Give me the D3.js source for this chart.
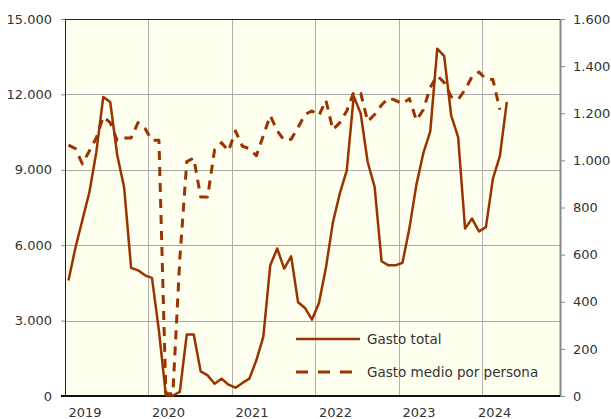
<!DOCTYPE html>
<html><head><meta charset="utf-8">
<script src="https://cdn.jsdelivr.net/npm/d3@7"></script>
<style>body{margin:0;background:#fff;}svg{display:block;font-family:"DejaVu Sans",Verdana,sans-serif;}</style>
</head><body><svg id="c" width="611" height="419"></svg>
<script>
// Monthly categories: Jan 2019 – Nov 2024 (axis span); data runs Jan 2019 – Apr 2024
const months = d3.timeMonths(new Date(2019,0,1), new Date(2024,11,1));
const years = [2019, 2020, 2021, 2022, 2023, 2024];
const leftTicks = [0, 3000, 6000, 9000, 12000, 15000];
const rightTicks = [0, 200, 400, 600, 800, 1000, 1200, 1400, 1600];
const seriesNames = ["Gasto total", "Gasto medio por persona"];
const gastoTotal = [
  4600, 5900, 7000, 8100, 9700, 11900, 11700, 9600, 8300, 5100, 5000, 4800,
  4700, 2600, 30, 20, 160, 2450, 2450, 980, 820, 490, 690, 450,
  330, 520, 690, 1420, 2350, 5200, 5870, 5070, 5560, 3730, 3500, 3040,
  3700, 5100, 6900, 8060, 8980, 11930, 11240, 9310, 8320, 5360, 5200, 5200,
  5300, 6670, 8400, 9660, 10530, 13820, 13520, 11170, 10300, 6660, 7060, 6550,
  6720, 8650, 9540, 11700
];
const gastoMedio = [
  1065, 1050, 985, 1040, 1095, 1185, 1160, 1085, 1095, 1095, 1160, 1135,
  1085, 1085, 10, 10, 580, 995, 1010, 845, 845, 1045, 1075, 1040,
  1125, 1060, 1050, 1020, 1105, 1190, 1125, 1085, 1090, 1140, 1195, 1210,
  1190, 1255, 1130, 1160, 1210, 1290, 1285, 1165, 1195, 1235, 1265, 1255,
  1240, 1262, 1170, 1215, 1310, 1360, 1330, 1270, 1258, 1300, 1355, 1375,
  1345, 1343, 1215
];

const svg = d3.select("#c");
const L = 65, R = 560, T = 19, B = 396;
const color = "#993300";
const x = d3.scaleBand().domain(d3.range(months.length)).range([L, R - 1]);
const cx = i => x(i) + x.bandwidth() / 2;
const yL = d3.scaleLinear().domain([0, 15000]).range([B, T]);
const yR = d3.scaleLinear().domain([0, 1600]).range([B, T]);

svg.append("rect").attr("x", L).attr("y", T).attr("width", R - L).attr("height", B - T).attr("fill", "#fffff0");

// horizontal grid
svg.append("g").selectAll("line").data(leftTicks.filter(d => d > 0 && d < 15000)).join("line")
  .attr("x1", L).attr("x2", R).attr("y1", d => Math.round(yL(d)) + 0.5).attr("y2", d => Math.round(yL(d)) + 0.5)
  .attr("stroke", "#a8a8a8").attr("stroke-width", 1);
// vertical grid at year starts
const yearIdx = years.map(y => (y - 2019) * 12);
svg.append("g").selectAll("line").data(yearIdx.filter(k => k > 0)).join("line")
  .attr("x1", k => Math.round(x(k)) + 0.5).attr("x2", k => Math.round(x(k)) + 0.5).attr("y1", T).attr("y2", B)
  .attr("stroke", "#b0b0b0").attr("stroke-width", 1);

// left axis
const gL = svg.append("g").attr("transform", `translate(${L},0)`)
  .call(d3.axisLeft(yL).tickValues(leftTicks).tickSize(4).tickPadding(9)
    .tickFormat(d => d3.format(",")(d).replace(/,/g, ".")));
gL.select(".domain").remove();
gL.selectAll(".tick line").attr("stroke", "#888");
gL.selectAll("text").attr("fill", "#333").style("font-size", "13px").style("font-family", '"DejaVu Sans",Verdana,sans-serif');

// right axis
const gR = svg.append("g").attr("transform", `translate(${R},0)`)
  .call(d3.axisRight(yR).tickValues(rightTicks).tickSize(5).tickPadding(8)
    .tickFormat(d => d3.format(",")(d).replace(/,/g, ".")));
gR.select(".domain").attr("stroke", "#888").attr("stroke-width", 2).attr("d", `M0.5,${T}V${B}`);
gR.selectAll(".tick line").attr("stroke", "#888");
gR.selectAll("text").attr("fill", "#333").style("font-size", "13px").style("font-family", '"DejaVu Sans",Verdana,sans-serif');

// frame top/left/bottom
svg.append("line").attr("x1", L).attr("x2", R).attr("y1", T + 0.5).attr("y2", T + 0.5).attr("stroke", "#222").attr("stroke-width", 1);
svg.append("line").attr("x1", L + 0.5).attr("x2", L + 0.5).attr("y1", T).attr("y2", B).attr("stroke", "#222").attr("stroke-width", 1);
svg.append("line").attr("x1", L - 4).attr("x2", R).attr("y1", B).attr("y2", B).attr("stroke", "#111").attr("stroke-width", 2);

// x year labels
const lastX = cx(gastoTotal.length - 1);
svg.append("g").selectAll("text").data(years).join("text")
  .attr("x", (yr, j) => { const s = x(yearIdx[j]); return Math.min(s + 20, (s + lastX) / 2); })
  .attr("y", 417).attr("text-anchor", "middle").attr("fill", "#333").style("font-size", "13px")
  .text(d => d);

// lines
const lineT = d3.line().x((d, i) => cx(i)).y(d => yL(d));
const lineM = d3.line().x((d, i) => cx(i)).y(d => yR(d));
svg.append("path").datum(gastoTotal).attr("d", lineT).attr("fill", "none").attr("stroke", color)
  .attr("stroke-width", 2.5).attr("stroke-linejoin", "round");
svg.append("path").datum(gastoMedio).attr("d", lineM).attr("fill", "none").attr("stroke", color)
  .attr("stroke-width", 3).attr("stroke-dasharray", "9,7").attr("stroke-linejoin", "round");

// legend
const lg = svg.append("g");
lg.append("line").attr("x1", 296).attr("x2", 360).attr("y1", 339).attr("y2", 339).attr("stroke", color).attr("stroke-width", 2.5);
lg.append("line").attr("x1", 296).attr("x2", 352).attr("y1", 372).attr("y2", 372).attr("stroke", color).attr("stroke-width", 3).attr("stroke-dasharray", "12,10");
lg.selectAll("text").data(seriesNames).join("text")
  .attr("x", 367).attr("y", (d, i) => i === 0 ? 339 : 372).attr("dy", "0.35em")
  .attr("fill", "#333").style("font-size", "13.5px").text(d => d);
</script></body></html>
